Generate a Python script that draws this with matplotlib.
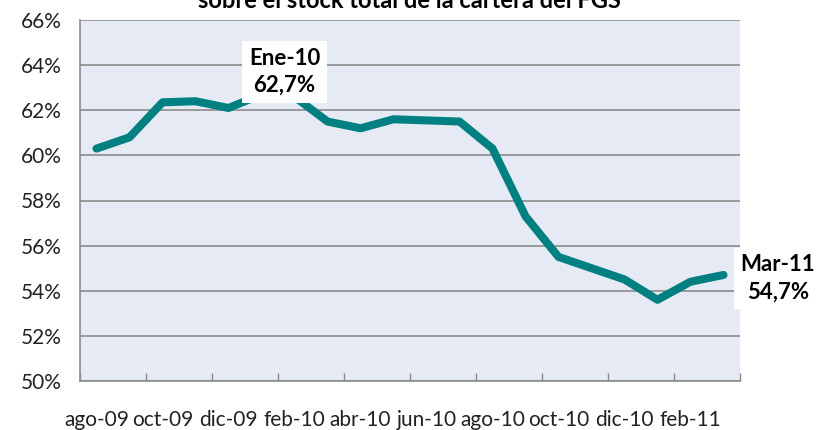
import matplotlib.pyplot as plt
import numpy as np

plt.rcParams['font.family'] = ['Lato', 'DejaVu Sans']

# meses ago-09 .. mar-11
meses = ["ago-09", "sep-09", "oct-09", "nov-09", "dic-09", "ene-10", "feb-10",
         "mar-10", "abr-10", "may-10", "jun-10", "jul-10", "ago-10", "sep-10",
         "oct-10", "nov-10", "dic-10", "ene-11", "feb-11", "mar-11"]
valores = [60.3, 60.8, 62.35, 62.4, 62.1, 62.7, 62.6, 61.5, 61.2, 61.6,
           61.55, 61.5, 60.3, 57.3, 55.5, 55.0, 54.5, 53.6, 54.4, 54.7]
yticks = [50, 52, 54, 56, 58, 60, 62, 64, 66]

fig = plt.figure(figsize=(8.19, 4.30), dpi=100)
ax = fig.add_axes([80/819, 49/430, 660/819, 361/430])
ax.set_facecolor("#E6EAF5")

x = np.arange(len(meses))
ax.plot(x, valores, color="#008080", lw=5.8, solid_capstyle="round",
        solid_joinstyle="round", zorder=3)

ax.set_xlim(-0.5, len(meses) - 0.5)
ax.set_ylim(50, 66)
ax.set_yticks(yticks)
ax.set_yticklabels(["%d%%" % v for v in yticks], fontsize=15, color="#222222")
ax.tick_params(axis="y", length=0, pad=13)
ax.grid(axis="y", color="#8C8C8C", lw=1.2, zorder=1)

# ticks entre categorias, etiquetas cada dos meses
ax.set_xticks(np.arange(-0.5, len(meses), 2))
ax.set_xticklabels([])
ax.set_xticks(x[::2], minor=True)
ax.set_xticklabels(meses[::2], minor=True, fontsize=15, color="#222222")
ax.tick_params(axis="x", which="major", direction="in", length=6,
               color="#8C8C8C", width=1)
ax.tick_params(axis="x", which="minor", length=0, pad=21)

for s in ["top", "right"]:
    ax.spines[s].set_visible(False)
for s in ["left", "bottom"]:
    ax.spines[s].set_color("#8C8C8C")
    ax.spines[s].set_linewidth(1.2)

box = dict(boxstyle="square,pad=0.3", fc="white", ec="none")
ax.text(5.7, 63.7, "Ene-10\n62,7%", ha="center", va="center", fontsize=16,
        fontweight="bold", linespacing=1.35, bbox=box, zorder=5)
ax.text(20.65, 54.55, "Mar-11\n54,7%", ha="center", va="center", fontsize=16,
        fontweight="bold", linespacing=1.35, bbox=box, zorder=5, clip_on=False)

fig.text(0.5, 1.0, "sobre el stock total de la cartera del FGS", ha="center",
         va="center", fontsize=17, fontweight="bold")

fig.savefig("out.png", dpi=100)
